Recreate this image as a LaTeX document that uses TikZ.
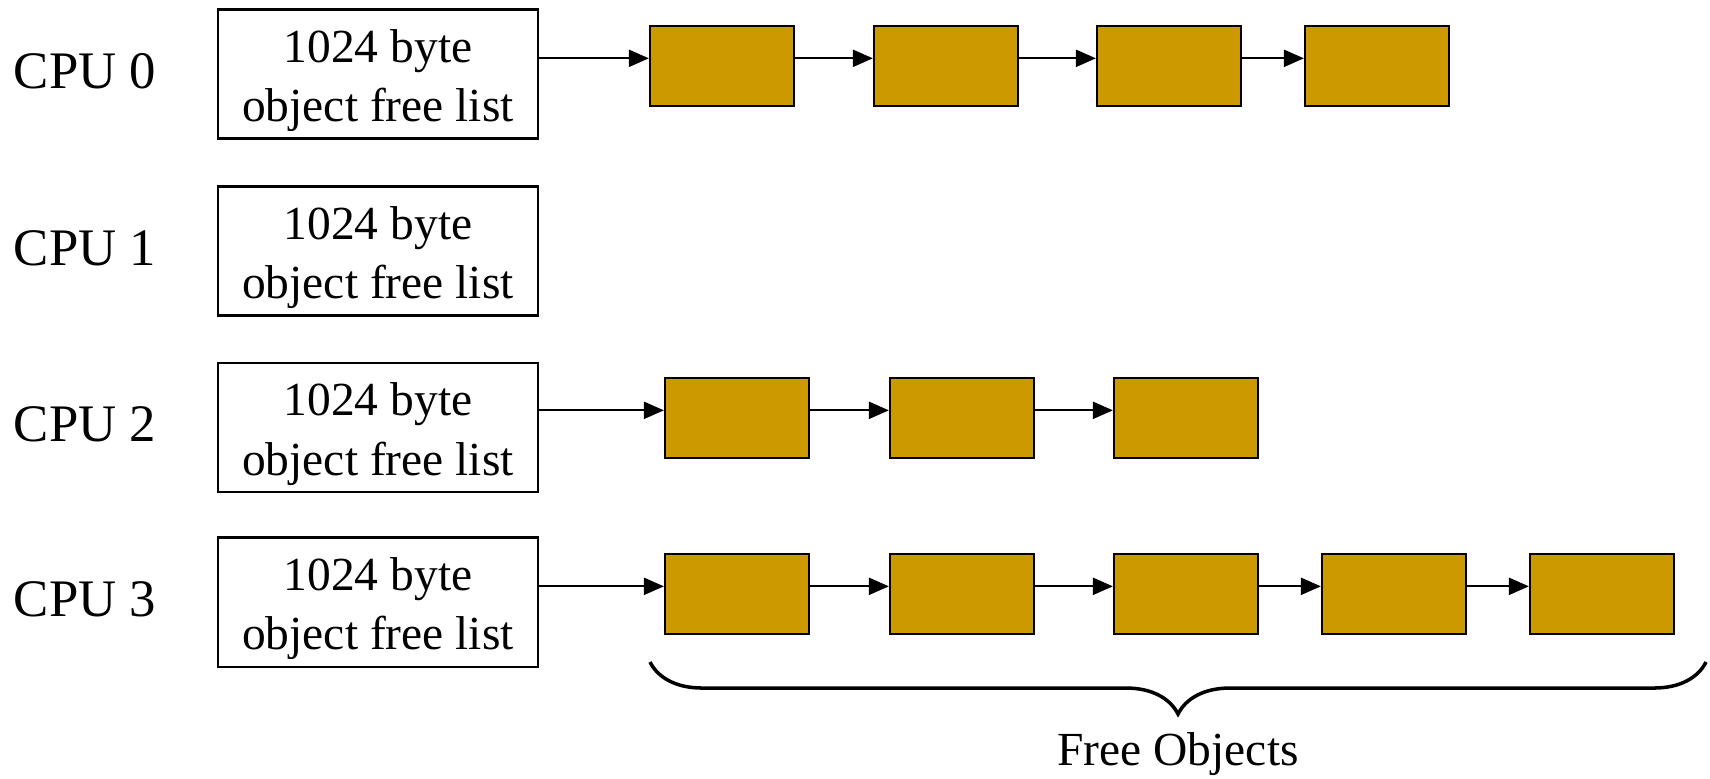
\documentclass[tikz,border=0pt]{standalone}
\usepackage{fontspec}
\setmainfont{Liberation Serif}
\usepackage{tikz}
\usetikzlibrary{positioning,arrows.meta,decorations.pathreplacing,calc}
\definecolor{objgold}{RGB}{204,153,0}

\begin{document}
\begin{tikzpicture}[x=0.01cm,y=-0.01cm,
    listbox/.style={draw, line width=0.6pt, minimum width=3.2cm, minimum height=1.29cm, align=center, inner sep=0pt, text height=29.9pt, font=\fontsize{13.5}{16.8}\selectfont},
    cpulbl/.style={inner sep=0pt, font=\fontsize{15}{18}\selectfont},
    freeobj/.style={draw, line width=0.6pt, fill=objgold, minimum width=1.44cm, minimum height=0.8cm, inner sep=0pt},
    ptr/.style={-{Triangle[length=0.2cm,width=0.17cm]}, line width=0.6pt}]
    \useasboundingbox (0,0) rectangle (1710,778);
    % per-CPU free lists
    \foreach \c/\y in {0/74, 1/251, 2/427.5, 3/602} {
        \node[listbox] (fl\c) at (378,\y) {1024 byte\\object free list};
        \node[cpulbl, left=0.6cm of fl\c, yshift=0.03cm] (cpu\c) {CPU \c};
    }
    % free objects of CPU 0
    \foreach \x [count=\i] in {722,946,1169,1377} {
        \node[freeobj] (o0-\i) at (\x,66) {};
    }
    % free objects of CPU 2
    \foreach \x [count=\i] in {737,962,1186} {
        \node[freeobj] (o2-\i) at (\x,418) {};
    }
    % free objects of CPU 3
    \foreach \x [count=\i] in {737,962,1186,1394,1602} {
        \node[freeobj] (o3-\i) at (\x,594) {};
    }
    % list pointers
    \draw[ptr] (fl0.east |- o0-1.174) -- (o0-1.174);
    \draw[ptr] (fl2.east |- o2-1.174) -- (o2-1.174);
    \draw[ptr] (fl3.east |- o3-1.174) -- (o3-1.174);
    \foreach \i [evaluate=\i as \j using int(\i+1)] in {1,2,3} {
        \draw[ptr] (o0-\i.6) -- (o0-\j.174);
    }
    \foreach \i [evaluate=\i as \j using int(\i+1)] in {1,2} {
        \draw[ptr] (o2-\i.6) -- (o2-\j.174);
    }
    \foreach \i [evaluate=\i as \j using int(\i+1)] in {1,2,3,4} {
        \draw[ptr] (o3-\i.6) -- (o3-\j.174);
    }
    % brace under the objects
    \coordinate (brl) at (650,662);
    \coordinate (brr) at (1706,662);
    \draw[decorate, decoration={brace, mirror, amplitude=0.52cm}, line width=1pt] (brl) -- (brr);
    \node[font=\fontsize{13.5}{16}\selectfont] (freelbl) at (1178,754) {Free Objects};
\end{tikzpicture}
\end{document}
